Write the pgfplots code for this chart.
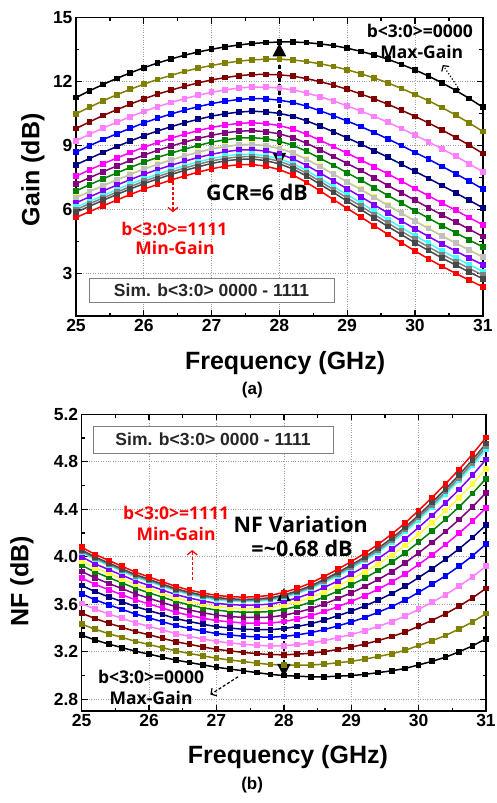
\documentclass[border=0pt]{standalone}
\usepackage{fontspec}
\setmainfont{Liberation Sans}
\newfontfamily\annfont{Open Sans}
\usepackage{pgfplots}
\pgfplotsset{compat=1.18}
\usepackage{pgfplotstable}
\usetikzlibrary{arrows.meta}

% Origin-like colour order, b<3:0> = 0000 ... 1111
\definecolor{c0}{RGB}{0,0,0}
\definecolor{c1}{RGB}{128,128,0}
\definecolor{c2}{RGB}{128,0,0}
\definecolor{c3}{RGB}{255,128,255}
\definecolor{c4}{RGB}{0,0,255}
\definecolor{c5}{RGB}{0,0,128}
\definecolor{c6}{RGB}{255,0,255}
\definecolor{c7}{RGB}{128,0,128}
\definecolor{c8}{RGB}{0,128,0}
\definecolor{c9}{RGB}{255,255,64}
\definecolor{c10}{RGB}{192,192,192}
\definecolor{c11}{RGB}{128,0,255}
\definecolor{c12}{RGB}{64,255,255}
\definecolor{c13}{RGB}{128,128,128}
\definecolor{c14}{RGB}{72,72,72}
\definecolor{c15}{RGB}{255,0,0}

\pgfplotstableread{
f    c0    c1    c2    c3    c4    c5    c6    c7    c8    c9    c10   c11   c12   c13   c14   c15
25.0 11.25 10.49 9.80  9.22  8.69  8.10  7.56  7.20  6.87  6.57  6.55  6.31  6.10  5.99  5.87  5.62
25.2 11.57 10.80 10.11 9.53  8.99  8.39  7.86  7.49  7.16  6.85  6.84  6.59  6.38  6.27  6.15  5.90
25.4 11.87 11.10 10.41 9.82  9.28  8.68  8.14  7.77  7.44  7.13  7.11  6.87  6.65  6.54  6.43  6.17
25.6 12.15 11.38 10.68 10.09 9.55  8.95  8.41  8.04  7.71  7.40  7.38  7.14  6.93  6.81  6.70  6.44
25.8 12.41 11.64 10.94 10.35 9.81  9.21  8.67  8.30  7.97  7.66  7.64  7.40  7.19  7.07  6.96  6.70
26.0 12.65 11.88 11.19 10.60 10.06 9.46  8.92  8.55  8.22  7.91  7.89  7.65  7.43  7.32  7.21  6.95
26.2 12.87 12.10 11.41 10.82 10.28 9.68  9.14  8.77  8.44  8.13  8.11  7.87  7.65  7.54  7.43  7.17
26.4 13.06 12.29 11.60 11.02 10.48 9.88  9.34  8.97  8.64  8.33  8.32  8.07  7.86  7.75  7.64  7.38
26.6 13.24 12.48 11.78 11.20 10.66 10.07 9.53  9.16  8.83  8.52  8.51  8.26  8.05  7.94  7.83  7.57
26.8 13.39 12.63 11.94 11.36 10.82 10.23 9.70  9.33  9.00  8.70  8.68  8.44  8.23  8.12  8.00  7.75
27.0 13.52 12.76 12.08 11.50 10.97 10.38 9.85  9.48  9.16  8.85  8.84  8.59  8.39  8.28  8.16  7.91
27.2 13.63 12.87 12.19 11.61 11.08 10.49 9.96  9.60  9.27  8.97  8.95  8.71  8.51  8.39  8.28  8.03
27.4 13.72 12.96 12.28 11.70 11.16 10.57 10.04 9.67  9.35  9.04  9.03  8.79  8.58  8.47  8.35  8.10
27.6 13.79 13.02 12.33 11.75 11.21 10.61 10.07 9.70  9.37  9.06  9.05  8.80  8.59  8.48  8.37  8.11
27.8 13.83 13.05 12.34 11.74 11.19 10.58 10.03 9.65  9.32  9.00  8.99  8.74  8.52  8.41  8.29  8.03
28.0 13.86 13.05 12.32 11.70 11.13 10.51 9.94  9.55  9.20  8.88  8.86  8.60  8.38  8.26  8.14  7.87
28.2 13.86 13.02 12.26 11.61 11.02 10.37 9.77  9.37  9.01  8.67  8.65  8.38  8.15  8.03  7.90  7.62
28.4 13.83 12.94 12.14 11.47 10.85 10.16 9.53  9.11  8.73  8.37  8.35  8.07  7.83  7.70  7.57  7.27
28.6 13.77 12.84 12.00 11.29 10.63 9.91  9.25  8.80  8.40  8.03  8.01  7.71  7.46  7.32  7.18  6.87
28.8 13.69 12.71 11.83 11.09 10.40 9.64  8.95  8.48  8.07  7.67  7.65  7.34  7.07  6.93  6.79  6.46
29.0 13.57 12.56 11.64 10.86 10.15 9.36  8.64  8.16  7.72  7.31  7.29  6.97  6.69  6.54  6.39  6.05
29.2 13.42 12.37 11.42 10.62 9.89  9.07  8.33  7.83  7.38  6.96  6.93  6.60  6.31  6.16  6.00  5.65
29.4 13.25 12.17 11.19 10.37 9.61  8.76  8.00  7.48  7.02  6.59  6.56  6.22  5.92  5.76  5.60  5.24
29.6 13.05 11.94 10.94 10.09 9.31  8.45  7.67  7.13  6.66  6.21  6.19  5.83  5.53  5.36  5.20  4.83
29.8 12.81 11.68 10.66 9.80  9.00  8.12  7.33  6.78  6.30  5.85  5.82  5.46  5.15  4.98  4.82  4.44
30.0 12.55 11.40 10.37 9.49  8.68  7.79  6.98  6.43  5.94  5.48  5.45  5.09  4.77  4.60  4.43  4.05
30.2 12.26 11.10 10.06 9.17  8.36  7.46  6.64  6.08  5.59  5.12  5.10  4.73  4.41  4.24  4.07  3.68
30.4 11.94 10.78 9.73  8.84  8.02  7.12  6.30  5.74  5.24  4.78  4.75  4.38  4.06  3.89  3.72  3.33
30.6 11.59 10.43 9.38  8.50  7.68  6.78  5.96  5.41  4.91  4.44  4.42  4.05  3.73  3.56  3.39  3.00
30.8 11.21 10.06 9.02  8.14  7.33  6.43  5.62  5.07  4.57  4.11  4.09  3.72  3.41  3.23  3.06  2.68
31.0 10.80 9.66  8.63  7.77  6.96  6.08  5.28  4.73  4.24  3.79  3.76  3.40  3.09  2.92  2.75  2.37
}\gaintab

\pgfplotstableread{
f    c0    c1    c2    c3    c4    c5    c6    c7    c8    c9    c10   c11   c12   c13   c14   c15
25.0 3.340 3.433 3.525 3.606 3.688 3.758 3.821 3.877 3.928 3.965 4.039 3.999 4.036 4.047 4.058 4.080
25.2 3.300 3.390 3.480 3.559 3.638 3.707 3.768 3.822 3.872 3.908 3.980 3.941 3.977 3.988 3.998 4.020
25.4 3.265 3.353 3.441 3.519 3.596 3.663 3.723 3.776 3.825 3.861 3.931 3.892 3.928 3.938 3.949 3.970
25.6 3.235 3.321 3.406 3.482 3.557 3.622 3.680 3.732 3.780 3.814 3.882 3.845 3.879 3.889 3.899 3.920
25.8 3.205 3.288 3.371 3.444 3.518 3.581 3.637 3.687 3.734 3.767 3.833 3.797 3.830 3.840 3.850 3.870
26.0 3.180 3.261 3.343 3.414 3.486 3.547 3.603 3.651 3.697 3.729 3.794 3.759 3.791 3.801 3.811 3.830
26.2 3.155 3.234 3.314 3.384 3.453 3.514 3.568 3.615 3.660 3.692 3.755 3.720 3.752 3.761 3.771 3.790
26.4 3.130 3.208 3.285 3.353 3.421 3.480 3.533 3.580 3.623 3.654 3.716 3.682 3.713 3.722 3.731 3.750
26.6 3.110 3.186 3.263 3.330 3.397 3.455 3.507 3.552 3.595 3.625 3.686 3.653 3.683 3.693 3.702 3.720
26.8 3.090 3.166 3.241 3.308 3.374 3.432 3.483 3.529 3.571 3.601 3.662 3.628 3.659 3.668 3.677 3.695
27.0 3.070 3.146 3.221 3.288 3.354 3.412 3.463 3.509 3.551 3.581 3.642 3.608 3.639 3.648 3.657 3.675
27.2 3.055 3.131 3.208 3.275 3.342 3.400 3.452 3.497 3.540 3.570 3.631 3.598 3.628 3.638 3.647 3.665
27.4 3.040 3.118 3.195 3.263 3.331 3.390 3.443 3.490 3.533 3.564 3.626 3.592 3.623 3.632 3.641 3.660
27.6 3.025 3.105 3.185 3.255 3.326 3.387 3.441 3.489 3.534 3.566 3.630 3.595 3.627 3.636 3.646 3.665
27.8 3.010 3.093 3.176 3.249 3.323 3.386 3.442 3.492 3.539 3.572 3.638 3.602 3.635 3.645 3.655 3.675
28.0 3.000 3.088 3.175 3.252 3.329 3.396 3.455 3.508 3.557 3.592 3.662 3.623 3.658 3.669 3.679 3.700
28.2 2.995 3.088 3.180 3.261 3.343 3.413 3.476 3.532 3.583 3.620 3.694 3.654 3.691 3.702 3.713 3.735
28.4 2.990 3.089 3.188 3.274 3.361 3.436 3.504 3.563 3.618 3.658 3.737 3.693 3.733 3.744 3.756 3.780
28.6 2.990 3.096 3.201 3.294 3.387 3.467 3.539 3.603 3.662 3.704 3.789 3.742 3.784 3.797 3.810 3.835
28.8 2.995 3.108 3.220 3.319 3.418 3.504 3.580 3.648 3.711 3.756 3.846 3.796 3.841 3.855 3.868 3.895
29.0 3.000 3.120 3.240 3.346 3.451 3.542 3.624 3.696 3.763 3.811 3.907 3.854 3.902 3.917 3.931 3.960
29.2 3.010 3.138 3.265 3.377 3.489 3.586 3.673 3.750 3.821 3.872 3.974 3.918 3.969 3.984 3.999 4.030
29.4 3.025 3.160 3.295 3.414 3.533 3.635 3.727 3.808 3.884 3.938 4.046 3.986 4.040 4.056 4.073 4.105
29.6 3.040 3.184 3.328 3.454 3.581 3.690 3.788 3.874 3.954 4.012 4.127 4.064 4.121 4.138 4.156 4.190
29.8 3.060 3.213 3.366 3.501 3.636 3.752 3.856 3.948 4.034 4.095 4.218 4.150 4.212 4.230 4.248 4.285
30.0 3.090 3.253 3.415 3.558 3.701 3.825 3.935 4.033 4.124 4.189 4.319 4.247 4.312 4.332 4.351 4.390
30.2 3.120 3.293 3.465 3.617 3.769 3.900 4.017 4.121 4.217 4.286 4.424 4.348 4.417 4.438 4.459 4.500
30.4 3.155 3.338 3.520 3.681 3.841 3.980 4.104 4.214 4.316 4.389 4.535 4.454 4.527 4.549 4.571 4.615
30.6 3.200 3.392 3.584 3.753 3.921 4.067 4.198 4.313 4.420 4.497 4.651 4.566 4.643 4.666 4.689 4.735
30.8 3.250 3.452 3.654 3.831 4.009 4.162 4.300 4.421 4.534 4.615 4.776 4.687 4.768 4.792 4.817 4.865
31.0 3.310 3.522 3.734 3.920 4.107 4.268 4.412 4.539 4.658 4.742 4.912 4.819 4.903 4.929 4.954 5.005
}\nftab

\pgfplotsset{
  panel/.style={
    scale only axis,
    xmin=25, xmax=31, xtick={25,...,31},
    minor x tick num=1, minor y tick num=1,
    tick align=inside,
    major tick length=6pt, minor tick length=3.5pt,
    tick style={black, line width=1.3pt},
    axis line style={line width=1.6pt},
    grid=major,
    grid style={gray!75, dotted, line width=0.7pt},
    /pgf/number format/assume math mode=true,
    ticklabel style={font=\fontsize{17.5}{17.5}\selectfont\bfseries},
    label style={font=\fontsize{25}{25}\selectfont\bfseries},
    clip=false,
  },
  curve/.style={color=#1, line width=1.5pt, mark=square*, mark size=2.1pt, mark options={solid}},
}
\tikzset{
  ann/.style={font=\annfont\bfseries\fontsize{17.5}{17.5}\selectfont, inner sep=0pt},
  big/.style={font=\annfont\bfseries\fontsize{21.5}{21.5}\selectfont, inner sep=0pt},
  simbox/.style={draw=gray, line width=0.9pt, fill=white, text=black!85,
    font=\bfseries\fontsize{17.5}{17.5}\selectfont, inner sep=0pt},
  dbl/.style={line width=2.4pt, dash pattern=on 4pt off 2.5pt,
    {Triangle[length=13pt,width=13pt]}-{Triangle[length=13pt,width=13pt]}},
}

\begin{document}
\begin{tikzpicture}
\path[use as bounding box] (-76pt,-487pt) rectangle (420pt,316pt);

% (a) gain
\begin{axis}[panel,
    width=406.8pt, height=298.3pt,
    ymin=1, ymax=15, ytick={3,6,9,12,15},
    xlabel={Frequency (GHz)}, ylabel={Gain (dB)},
    xlabel style={at={(axis description cs:0.514,-0.158)}, anchor=center},
    ylabel style={at={(axis description cs:-0.106,0.49)}, anchor=center},
  ]
  \pgfplotsinvokeforeach{0,...,15}{
    \addplot[curve=c#1] table[x=f, y=c#1] {\gaintab};
  }
  \draw[dbl] (axis cs:28,8.05) -- (axis cs:28,13.8);
  \node[big] at (axis cs:27.67,6.81) {GCR=6 dB};
  \node[ann] at (axis cs:30.07,14.38) {b<3:0>=0000};
  \node[ann] at (axis cs:30.10,13.39) {Max-Gain};
  \draw[line width=1.2pt, dotted, -{Straight Barb[length=4pt,width=9pt,line width=1.2pt]}]
        (axis cs:30.66,11.60) -- (axis cs:30.41,12.78);
  \draw[red, line width=1.3pt, dash pattern=on 3pt off 2pt,
        -{Straight Barb[length=4pt,width=10pt,line width=1.3pt]}]
        (axis cs:26.43,7.28) -- (axis cs:26.43,5.87);
  \node[ann, text=red] at (axis cs:26.45,5.07) {b<3:0>=1111};
  \node[ann, text=red] at (axis cs:26.46,4.18) {Min-Gain};
  \node[simbox, minimum width=245pt, minimum height=24pt] at (axis cs:27.0,2.22)
        {Sim. b<3:0> 0000 - 1111};
  \node[font=\bfseries\fontsize{17}{17}\selectfont] at (axis cs:27.6,-2.48) {(a)};
\end{axis}

% (b) noise figure
\begin{axis}[panel,
    at={(5.7pt,-395.2pt)}, anchor=south west,
    width=404.3pt, height=296.9pt,
    ymin=2.7, ymax=5.2, ytick={2.8,3.2,3.6,4.0,4.4,4.8,5.2},
    yticklabel style={/pgf/number format/.cd, fixed, fixed zerofill, precision=1},
    xlabel={Frequency (GHz)}, ylabel={NF (dB)},
    xlabel style={at={(axis description cs:0.51,-0.154)}, anchor=center},
    ylabel style={at={(axis description cs:-0.148,0.438)}, anchor=center},
  ]
  \pgfplotsinvokeforeach{0,...,15}{
    \addplot[curve=c#1] table[x=f, y=c#1] {\nftab};
  }
  \node[simbox, minimum width=240pt, minimum height=27pt] at (axis cs:26.95,4.987)
        {Sim. b<3:0> 0000 - 1111};
  \node[ann, text=red] at (axis cs:26.40,4.369) {b<3:0>=1111};
  \node[ann, text=red] at (axis cs:26.40,4.192) {Min-Gain};
  \draw[red, line width=1.3pt, dash pattern=on 3pt off 2pt,
        -{Straight Barb[length=4pt,width=10pt,line width=1.3pt]}]
        (axis cs:26.64,3.805) -- (axis cs:26.64,4.057);
  \node[big] at (axis cs:28.25,4.276) {NF Variation};
  \node[big] at (axis cs:28.27,4.074) {=\textasciitilde0.68 dB};
  \draw[dbl] (axis cs:28,2.99) -- (axis cs:28,3.737);
  \node[ann] at (axis cs:26.03,2.99) {b<3:0>=0000};
  \node[ann] at (axis cs:26.03,2.81) {Max-Gain};
  \draw[line width=1.2pt, dash pattern=on 3pt off 2pt,
        -{Straight Barb[length=4pt,width=9pt,line width=1.2pt]}]
        (axis cs:27.32,2.99) -- (axis cs:26.91,2.84);
  \node[font=\bfseries\fontsize{17}{17}\selectfont] at (axis cs:27.53,2.08) {(b)};
\end{axis}
\end{tikzpicture}
\end{document}
